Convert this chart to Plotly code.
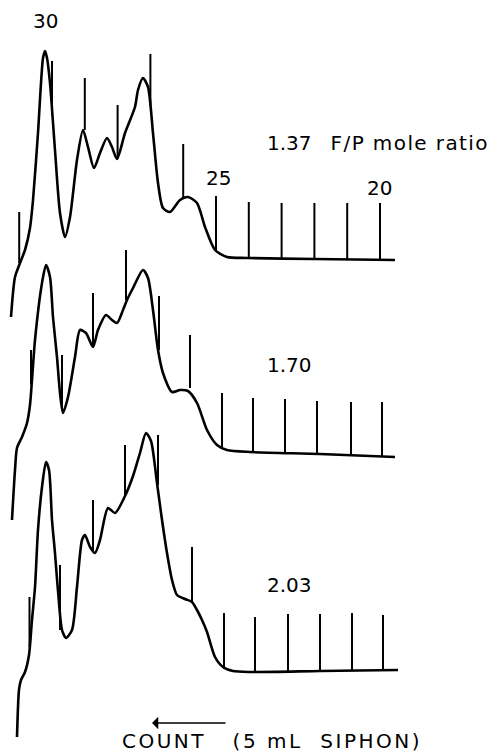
import plotly.graph_objects as go

# Elution profiles of the fluorescein/protein conjugates, plotted against fraction
# number (counting down from 31 to 20), absorbance in arbitrary recorder units.
ratio_labels = ["1.37", "1.70", "2.03"]

frac_137 = [31.25, 31.128, 30.976, 30.823, 30.671, 30.579, 30.427, 30.274, 30.213, 30.152,
            30.061, 29.909, 29.756, 29.604, 29.451, 29.238, 29.055, 28.902, 28.72, 28.537,
            28.323, 28.171, 28.018, 27.774, 27.47, 27.378, 27.226, 27.073, 26.921, 26.768,
            26.616, 26.402, 26.098, 25.854, 25.579, 25.335, 25.03, 24.665, 24.055, 22.0, 19.543]
abs_137 = [-0.236, -0.076, -0.020, 0.032, 0.12, 0.232, 0.50, 0.800, 0.828, 0.800,
           0.70, 0.432, 0.18, 0.084, 0.164, 0.392, 0.512, 0.444, 0.36, 0.42,
           0.48, 0.444, 0.396, 0.50, 0.604, 0.672, 0.72, 0.684, 0.50, 0.30,
           0.20, 0.184, 0.232, 0.244, 0.22, 0.124, 0.032, 0.004, 0.0, -0.004, -0.008]

frac_170 = [31.22, 31.128, 31.067, 30.915, 30.762, 30.671, 30.61, 30.518, 30.305, 30.183,
            30.061, 29.97, 29.848, 29.756, 29.665, 29.512, 29.299, 29.146, 28.963, 28.75,
            28.598, 28.354, 28.171, 28.018, 27.835, 27.713, 27.53, 27.226, 27.073, 26.921,
            26.768, 26.616, 26.341, 26.098, 25.854, 25.579, 25.274, 24.97, 24.665, 23.963,
            21.829, 19.543]
abs_170 = [-0.272, -0.072, 0.016, 0.06, 0.116, 0.188, 0.288, 0.448, 0.676, 0.748,
           0.70, 0.54, 0.38, 0.236, 0.156, 0.22, 0.38, 0.488, 0.476, 0.42,
           0.488, 0.548, 0.528, 0.516, 0.568, 0.608, 0.656, 0.728, 0.696, 0.568,
           0.408, 0.316, 0.24, 0.248, 0.244, 0.196, 0.088, 0.028, 0.008, 0.0,
           -0.008, -0.02]

frac_203 = [31.067, 31.006, 30.945, 30.823, 30.701, 30.61, 30.518, 30.427, 30.305, 30.183,
            30.091, 30.0, 29.909, 29.787, 29.695, 29.573, 29.39, 29.238, 29.085, 28.994,
            28.841, 28.689, 28.537, 28.293, 28.079, 27.774, 27.53, 27.317, 27.134, 26.982,
            26.799, 26.646, 26.494, 26.341, 26.189, 25.945, 25.732, 25.579, 25.427, 25.274,
            25.03, 24.787, 24.482, 23.963, 21.829, 19.451]
abs_203 = [-0.268, -0.08, -0.04, -0.008, 0.06, 0.2, 0.332, 0.56, 0.732, 0.832,
           0.80, 0.60, 0.468, 0.268, 0.16, 0.128, 0.16, 0.332, 0.52, 0.54,
           0.492, 0.468, 0.52, 0.648, 0.628, 0.696, 0.776, 0.868, 0.948, 0.916,
           0.748, 0.60, 0.468, 0.36, 0.30, 0.284, 0.272, 0.24, 0.2, 0.152,
           0.052, 0.012, -0.004, -0.008, -0.004, 0.0]

# Fraction-change pips written by the recorder: position, trace level, pip tip
pip_frac_137 = [31, 30, 29, 28, 27, 26, 25, 24, 23, 22, 21, 20]
pip_base_137 = [-0.02, 0.57, 0.512, 0.396, 0.61, 0.236, 0.032, 0.0, -0.004, -0.004, -0.006, -0.008]
pip_tip_137 = [0.184, 0.788, 0.72, 0.612, 0.816, 0.456, 0.248, 0.224, 0.22, 0.22, 0.22, 0.22]

pip_frac_170 = [30.64, 29.695, 28.75, 27.744, 26.738, 25.793, 24.817, 23.872, 22.896, 21.921, 20.884, 19.939]
pip_base_170 = [0.27, 0.168, 0.42, 0.608, 0.408, 0.256, 0.016, 0.0, -0.004, -0.008, -0.014, -0.02]
pip_tip_170 = [0.408, 0.388, 0.636, 0.808, 0.624, 0.468, 0.236, 0.216, 0.212, 0.204, 0.2, 0.2]

pip_frac_203 = [30.686, 29.756, 28.75, 27.774, 26.768, 25.732, 24.756, 23.811, 22.805, 21.829, 20.854, 19.909]
pip_base_203 = [0.092, 0.16, 0.472, 0.70, 0.74, 0.272, 0.004, -0.004, -0.004, -0.004, -0.002, 0.0]
pip_tip_203 = [0.292, 0.42, 0.68, 0.90, 0.94, 0.492, 0.228, 0.212, 0.224, 0.224, 0.228, 0.22]

fraction_labels = ["30", "25", "20"]

W, H = 488, 753
PX_PER_UNIT = 250.0
Y_RANGE = [-0.32, 1.0]
baselines_px = [258, 452, 670]          # vertical placement of each panel's zero
PX_PER_FRACTION = 32.8
X_RANGE = [30 + 52 / PX_PER_FRACTION, 30 - (W - 52) / PX_PER_FRACTION]

FONT = "DejaVu Sans"
FSIZE = 20
NB = "\u00a0"
fig = go.Figure()

curves = [(frac_137, abs_137), (frac_170, abs_170), (frac_203, abs_203)]
pips = [(pip_frac_137, pip_base_137, pip_tip_137),
        (pip_frac_170, pip_base_170, pip_tip_170),
        (pip_frac_203, pip_base_203, pip_tip_203)]
yrefs = ["y", "y2", "y3"]

for i, ((fx, fy), (px, pb, pt)) in enumerate(zip(curves, pips)):
    fig.add_trace(go.Scatter(
        x=fx, y=fy, xaxis="x", yaxis=yrefs[i], mode="lines",
        line=dict(color="black", width=2.6, shape="spline", smoothing=0.7),
        showlegend=False, hoverinfo="skip"))
    xs, ys = [], []
    for f, b, t in zip(px, pb, pt):
        xs += [f, f, None]
        ys += [b, t, None]
    fig.add_trace(go.Scatter(
        x=xs, y=ys, xaxis="x", yaxis=yrefs[i], mode="lines",
        line=dict(color="black", width=2.0),
        showlegend=False, hoverinfo="skip"))

layout_axes = {}
for i, b in enumerate(baselines_px):
    lo = 1 - (b - Y_RANGE[0] * PX_PER_UNIT) / H
    hi = 1 - (b - Y_RANGE[1] * PX_PER_UNIT) / H
    name = "yaxis" if i == 0 else f"yaxis{i + 1}"
    layout_axes[name] = dict(domain=[lo, hi], range=Y_RANGE, visible=False,
                             anchor="x", fixedrange=True)

annotations = []
# fraction numbers above the top trace
for lab, xf, yv, xs in zip(fraction_labels, [30, 25, 20], [0.948, 0.32, 0.28], [-7, 2, -1]):
    annotations.append(dict(x=xf, y=yv, xref="x", yref="y", text=lab, showarrow=False,
                            xshift=xs, font=dict(family=FONT, size=FSIZE, color="black")))

ratio_text = [ratio_labels[0] + NB * 3 +
              '<span style="letter-spacing:1.4px">F/P mole ratio</span>',
              ratio_labels[1], ratio_labels[2]]
for txt, yr, yv in zip(ratio_text, yrefs, [0.46, 0.348, 0.34]):
    annotations.append(dict(x=23.506, y=yv, xref="x", yref=yr, text=txt, showarrow=False,
                            xanchor="left", font=dict(family=FONT, size=FSIZE, color="black")))

# direction of fraction counting
annotations.append(dict(x=152 / W, y=1 - 723 / H, xref="paper", yref="paper",
                        ax=75, ay=0, text="", showarrow=True, arrowhead=1,
                        arrowsize=1.3, arrowwidth=1.6, arrowcolor="black"))
annotations.append(dict(x=120 / W, y=1 - 741 / H, xref="paper", yref="paper",
                        xanchor="left", yanchor="middle", showarrow=False,
                        text='<span style="letter-spacing:2.5px">COUNT' + NB * 3 +
                             "(5" + NB + "mL" + NB * 2 + "SIPHON)</span>",
                        font=dict(family=FONT, size=FSIZE, color="black")))

fig.update_layout(
    width=W, height=H, margin=dict(l=0, r=0, t=0, b=0),
    paper_bgcolor="white", plot_bgcolor="rgba(0,0,0,0)",
    xaxis=dict(domain=[0, 1], range=X_RANGE, visible=False, fixedrange=True),
    annotations=annotations, **layout_axes)

fig.write_html("out.html")
